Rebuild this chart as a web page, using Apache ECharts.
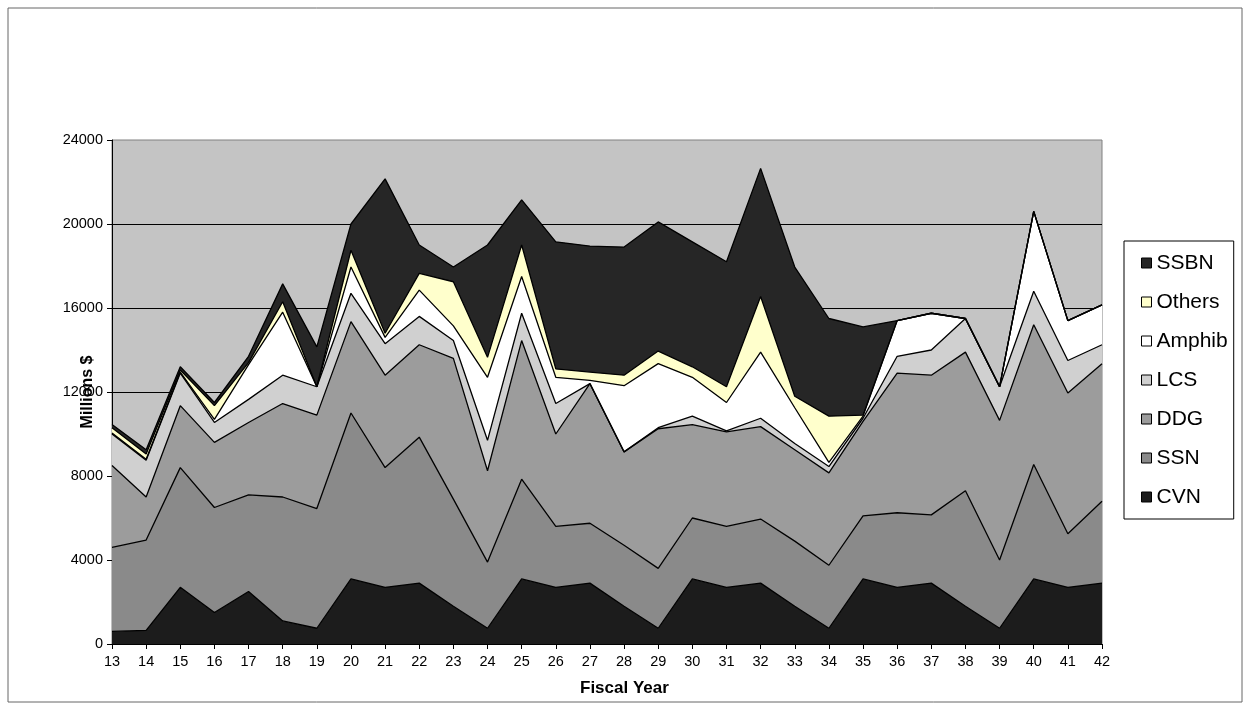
<!DOCTYPE html>
<html>
<head>
<meta charset="utf-8">
<script src="https://cdn.jsdelivr.net/npm/echarts@6/dist/echarts.min.js"></script>
<style>
html,body{margin:0;padding:0;background:#fff;}
#chart{width:1250px;height:708px;}
</style>
</head>
<body>
<div id="chart"></div>
<script>
const categories = ['13','14','15','16','17','18','19','20','21','22','23','24','25','26','27','28','29','30','31','32','33','34','35','36','37','38','39','40','41','42'];
const CVN    = [600,650,2700,1500,2500,1100,750,3100,2700,2900,1800,750,3100,2700,2900,1800,750,3100,2700,2900,1800,750,3100,2700,2900,1800,750,3100,2700,2900];
const SSN    = [4000,4300,5700,5000,4600,5900,5700,7900,5700,6950,5100,3150,4750,2900,2850,2900,2850,2900,2900,3050,3100,3000,3000,3550,3250,5500,3250,5450,2550,3900];
const DDG    = [3900,2050,2950,3100,3450,4450,4450,4350,4400,4400,6700,4350,6600,4400,6650,4450,6650,4450,4500,4400,4350,4400,4500,6650,6650,6600,6650,6650,6700,6550];
const LCS    = [1500,1750,1550,950,1100,1350,1350,1350,1500,1350,850,1450,1300,1450,0,0,50,400,50,400,300,300,150,800,1200,1600,1600,1600,1550,900];
const Amphib = [50,50,50,150,1650,3000,0,1250,300,1250,700,3000,1750,1250,150,3150,3050,1850,1350,3150,1700,200,100,1700,1750,0,0,3800,1900,1900];
const Others = [250,250,100,650,100,500,0,800,200,800,2100,950,1500,400,400,500,600,500,750,2650,550,2200,50,0,0,0,0,0,0,0];
const SSBN   = [150,200,150,150,300,850,1900,1250,7350,1350,700,5350,2150,6050,6000,6100,6150,5950,5950,6100,6150,4650,4200,0,0,0,0,0,0,0];
const yTicks = [0,4000,8000,12000,16000,20000,24000];

const seriesDefs = [
  {name:'CVN', data:CVN, color:'#1c1c1c'},
  {name:'SSN', data:SSN, color:'#8a8a8a'},
  {name:'DDG', data:DDG, color:'#9c9c9c'},
  {name:'LCS', data:LCS, color:'#d0d0d0'},
  {name:'Amphib', data:Amphib, color:'#ffffff'},
  {name:'Others', data:Others, color:'#ffffcc'},
  {name:'SSBN', data:SSBN, color:'#262626'}
];

const chart = echarts.init(document.getElementById('chart'), null, {renderer:'canvas'});
const font = 'Liberation Sans, Arial, sans-serif';
chart.setOption({
  animation:false,
  backgroundColor:'#ffffff',
  textStyle:{fontFamily:font, color:'#000'},
  graphic:[
    {type:'rect', shape:{x:8,y:8,width:1234,height:694}, style:{fill:'none', stroke:'#666', lineWidth:1}, z:-1},
    {type:'text', left:580, top:680, style:{text:'Fiscal Year', fontFamily:font, fontSize:17, fontWeight:'bold', fill:'#000'}}
  ],
  grid:{left:112, right:148, top:140, bottom:64, show:true, backgroundColor:'#c4c4c4', borderColor:'#808080', borderWidth:1},
  legend:{
    orient:'vertical', left:1124, top:241,
    data:['SSBN','Others','Amphib','LCS','DDG','SSN','CVN'],
    icon:'rect', itemWidth:10, itemHeight:10, itemGap:15,
    itemStyle:{borderColor:'#000', borderWidth:1},
    padding:[10,6,10,17],
    borderColor:'#000', borderWidth:1, backgroundColor:'#fff',
    textStyle:{fontFamily:font, fontSize:21, color:'#000', lineHeight:24}
  },
  xAxis:{
    type:'category', data:categories, boundaryGap:false,
    axisLine:{lineStyle:{color:'#000', width:1}},
    axisTick:{show:true, alignWithLabel:true, length:5, lineStyle:{color:'#000'}},
    axisLabel:{fontFamily:font, fontSize:14.5, color:'#000', margin:10, interval:0},
    splitLine:{show:false}
  },
  yAxis:{
    type:'value', min:0, max:24000, interval:4000,
    name:'Millions $', nameLocation:'middle', nameGap:16, nameMoveOverlap:false,
    nameTextStyle:{fontFamily:font, fontSize:16, fontWeight:'bold', color:'#000'},
    axisLine:{show:true, lineStyle:{color:'#000', width:1}},
    axisTick:{show:true, length:5, lineStyle:{color:'#000'}},
    axisLabel:{fontFamily:font, fontSize:14.5, color:'#000', margin:9,
      formatter:function(v){return yTicks.indexOf(v)>=0 ? String(v) : '';}},
    splitLine:{show:true, showMaxLine:false, lineStyle:{color:'#000', width:1.2}}
  },
  series: seriesDefs.map(function(s){
    return {
      name:s.name, type:'line', stack:'total', data:s.data,
      symbol:'none', smooth:false,
      itemStyle:{color:s.color, borderColor:'#000', borderWidth:1},
      lineStyle:{color:'#000', width:1.3},
      areaStyle:{color:s.color, opacity:1}
    };
  })
});
</script>
</body>
</html>
